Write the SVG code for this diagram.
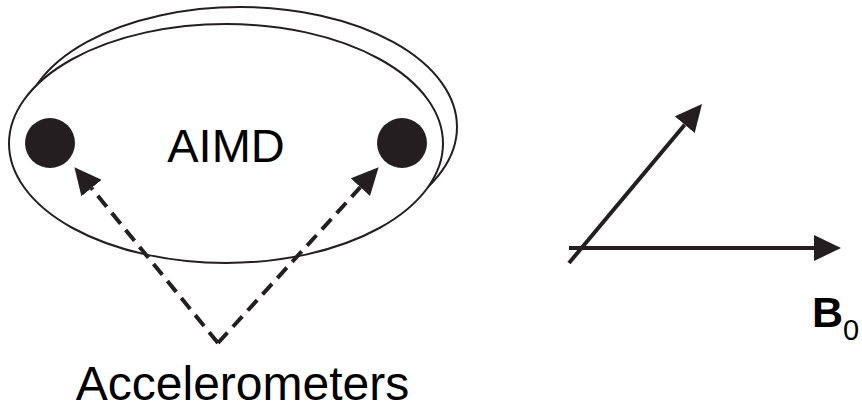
<svg xmlns="http://www.w3.org/2000/svg" width="862" height="409" viewBox="0 0 862 409">
<style>
.outline{fill:#fff;stroke:#231f20;stroke-width:2}
.dot{fill:#231f20}
.dash{fill:none;stroke:#231f20;stroke-width:4;stroke-dasharray:14 8}
.solid{fill:none;stroke:#231f20;stroke-width:4}
.lbl{font-family:"Liberation Sans",Arial,sans-serif;fill:#000}
</style>
<defs>
<marker id="ah" markerUnits="userSpaceOnUse" markerWidth="27" markerHeight="26" refX="0" refY="13" orient="auto" viewBox="0 0 27 26">
<path d="M0,0 L27,13 L0,26 z" fill="#231f20"/>
</marker>
</defs>
<rect width="862" height="409" fill="#fff"/>
<g id="aimd">
<ellipse class="outline" cx="240" cy="127" rx="217" ry="120"/>
<ellipse class="outline" cx="226" cy="143.5" rx="217" ry="119.5"/>
<text class="lbl" x="226" y="162" font-size="47" text-anchor="middle">AIMD</text>
</g>
<g id="sensor-left"><circle class="dot" cx="50" cy="143" r="25"/></g>
<g id="sensor-right"><circle class="dot" cx="402" cy="143" r="25"/></g>
<g id="accelerometers">
<text class="lbl" x="242.5" y="400" font-size="48" text-anchor="middle">Accelerometers</text>
</g>
<g id="field">
<text class="lbl" x="812" y="327" font-size="43" font-weight="bold">B<tspan x="843" y="340" font-size="29" font-weight="normal">0</tspan></text>
</g>
<g id="connectors">
<line class="dash" x1="218" y1="343" x2="91.5" y2="188.1" marker-end="url(#ah)"/>
<line class="dash" x1="218" y1="343" x2="360.4" y2="187.2" marker-end="url(#ah)"/>
<line class="solid" x1="569" y1="248" x2="814" y2="248" marker-end="url(#ah)"/>
<line class="solid" x1="569" y1="263" x2="684.7" y2="124.7" marker-end="url(#ah)"/>
</g>
</svg>
